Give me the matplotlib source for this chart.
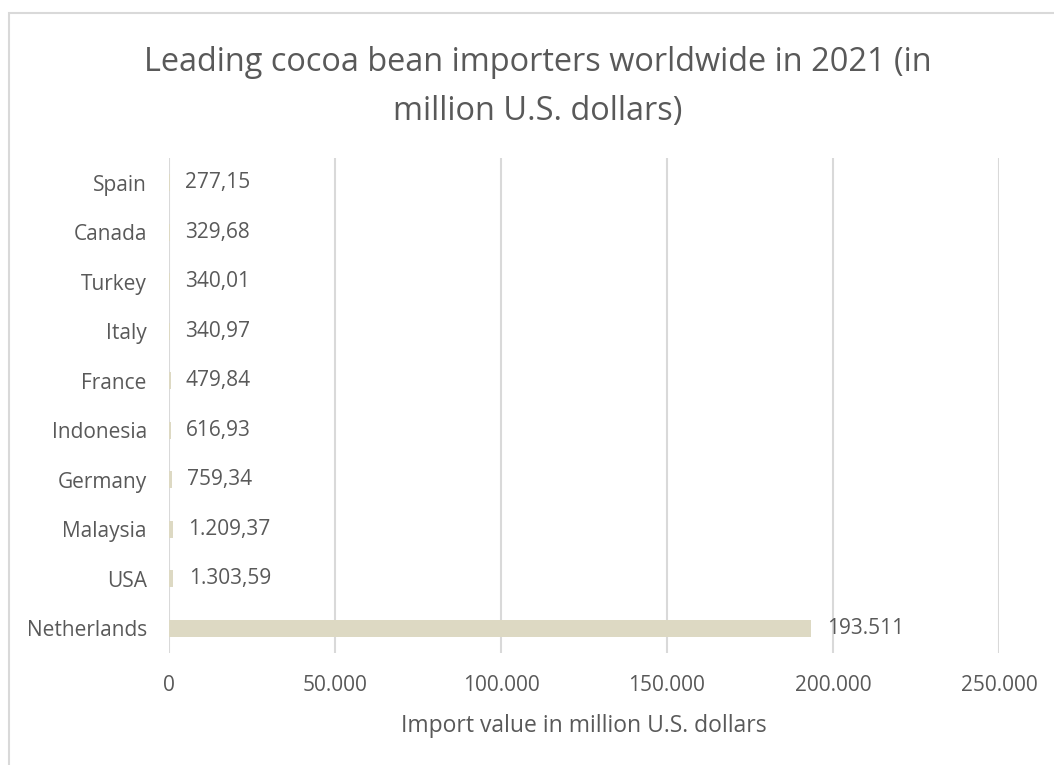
import matplotlib.pyplot as plt
from matplotlib.patches import Rectangle

countries = ['Netherlands', 'USA', 'Malaysia', 'Germany', 'Indonesia',
             'France', 'Italy', 'Turkey', 'Canada', 'Spain']
values = [193511, 1303.59, 1209.37, 759.34, 616.93,
          479.84, 340.97, 340.01, 329.68, 277.15]
xticks = [0, 50000, 100000, 150000, 200000, 250000]

TXT = '#595959'
GRID = '#D9D9D9'
BAR = '#DDD9C3'

plt.rcParams['font.family'] = ['Open Sans', 'DejaVu Sans']


def eu_fmt(v):
    # thousands with '.', decimals with ','
    if float(v).is_integer():
        s = f'{int(v):,}'
        return s.replace(',', '.')
    s = f'{v:,.2f}'
    return s.replace(',', 'X').replace('.', ',').replace('X', '.')


fig = plt.figure(figsize=(10.54, 7.65), dpi=100)
W, H = 1054, 765

# outer chart frame
fig.patches.append(Rectangle((9 / W, -0.1), 1.2, (H - 13) / H + 0.1,
                             transform=fig.transFigure, fill=False,
                             edgecolor=GRID, linewidth=1.5))

ax = fig.add_axes([169 / W, (H - 653) / H, (999 - 169) / W, (653 - 158) / H])

y = range(len(countries))
ax.barh(y, values, height=0.35, color=BAR, zorder=2)
ax.set_ylim(-0.5, len(countries) - 0.5)
ax.set_xlim(0, 250000)
ax.set_xticks(xticks)
ax.set_xticklabels([eu_fmt(t) for t in xticks])
ax.set_yticks(list(y))
ax.set_yticklabels(countries)
ax.grid(axis='x', color=GRID, linewidth=1.5, zorder=0)
for s in ax.spines.values():
    s.set_visible(False)
ax.tick_params(axis='both', length=0, labelsize=15, colors=TXT)
ax.tick_params(axis='y', pad=16)
ax.tick_params(axis='x', pad=16)

for yi, v in zip(y, values):
    ax.annotate(eu_fmt(v), (v, yi), xytext=(11, 0), textcoords='offset points',
                va='center', ha='left', fontsize=15, color=TXT)

ax.set_xlabel('Import value in million U.S. dollars', fontsize=16.5, color=TXT)
ax.xaxis.label.set_va('baseline')
ax.xaxis.set_label_coords(0.5, -79 / 495)

# baseline here is the one of the second title line
fig.text(538 / W, 1 - 120 / H,
         'Leading cocoa bean importers worldwide in 2021 (in\nmillion U.S. dollars)',
         ha='center', va='baseline', fontsize=23.4, color=TXT, linespacing=1.65)

fig.savefig('out.png', dpi=100)
